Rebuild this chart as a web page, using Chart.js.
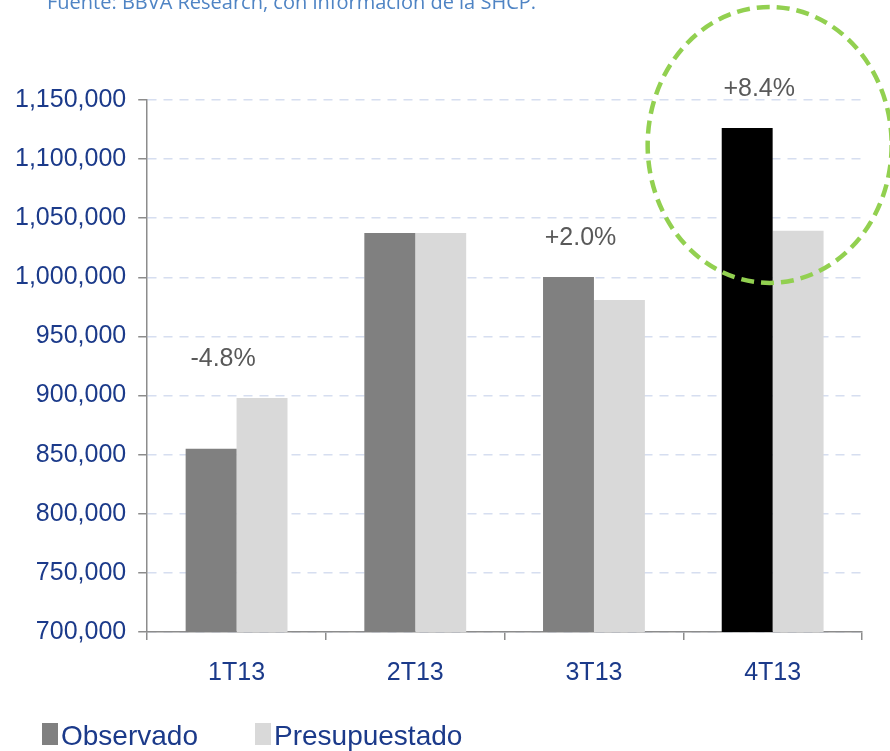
<!DOCTYPE html>
<html>
<head>
<meta charset="utf-8">
<script src="https://cdn.jsdelivr.net/npm/chart.js@4.4.1/dist/chart.umd.min.js"></script>
<style>
  body { margin: 0; background: #fff; }
  #wrap { position: relative; width: 890px; height: 751px; }
</style>
</head>
<body>
<div id="wrap"><canvas id="grafico"></canvas></div>
<script>
// datos
var trimestres = ['1T13', '2T13', '3T13', '4T13'];
var observado = [855000, 1037500, 1000300, 1126400];
var presupuestado = [898000, 1037500, 980900, 1039300];
var variacion = ['-4.8%', '', '+2.0%', '+8.4%'];
var coloresObs = ['#808080', '#808080', '#808080', '#000000'];

var azul = '#1b3a8a';
var fuente = '"Liberation Sans", Arial, sans-serif';

// textos, leyenda y circulo
var extras = {
  id: 'extras',
  afterDatasetsDraw: function (chart) {
    var ctx = chart.ctx;
    var obsMeta = chart.getDatasetMeta(0);
    var presMeta = chart.getDatasetMeta(1);

    ctx.save();
    ctx.font = '25px ' + fuente;
    ctx.fillStyle = '#595959';
    ctx.textAlign = 'center';
    ctx.textBaseline = 'middle';
    for (var i = 0; i < variacion.length; i++) {
      if (!variacion[i]) continue;
      var b = obsMeta.data[i];
      var top = Math.min(b.y, presMeta.data[i].y);
      ctx.fillText(variacion[i], b.x + 12, top - 39);
    }

    // circulo verde sobre 4T13
    var xs = chart.scales.x, ys = chart.scales.y;
    var cx = xs.getPixelForValue(3) - 3;
    var cy = ys.getPixelForValue(1112000);
    ctx.strokeStyle = '#92d050';
    ctx.lineWidth = 4.5;
    ctx.setLineDash([13, 7]);
    ctx.beginPath();
    ctx.ellipse(cx, cy, 122, 138, 0, 0, Math.PI * 2);
    ctx.stroke();
    ctx.setLineDash([]);

    // fuente (cortada arriba)
    ctx.font = '20px "Open Sans", sans-serif';
    ctx.fillStyle = '#4f84c4';
    ctx.textAlign = 'left';
    ctx.textBaseline = 'alphabetic';
    ctx.fillText('Fuente: BBVA Research, con información de la SHCP.', 47, 9);

    // leyenda
    var items = [
      { txt: chart.data.datasets[0].label, color: coloresObs[0], x: 42 },
      { txt: chart.data.datasets[1].label, color: chart.data.datasets[1].backgroundColor, x: 255 }
    ];
    ctx.font = '28px ' + fuente;
    ctx.textBaseline = 'middle';
    items.forEach(function (it) {
      ctx.fillStyle = it.color;
      ctx.fillRect(it.x, 723, 16, 22);
      ctx.fillStyle = azul;
      ctx.fillText(it.txt, it.x + 19, 737);
    });
    ctx.restore();
  }
};

var ctx = document.getElementById('grafico').getContext('2d');
var myChart = new Chart(ctx, {
  type: 'bar',
  data: {
    labels: trimestres,
    datasets: [{
      label: 'Observado',
      data: observado,
      backgroundColor: coloresObs,
      borderWidth: 0
    }, {
      label: 'Presupuestado',
      data: presupuestado,
      backgroundColor: '#d9d9d9',
      borderWidth: 0
    }]
  },
  options: {
    responsive: true,
    maintainAspectRatio: false,
    animation: false,
    categoryPercentage: 0.57,
    barPercentage: 1.0,
    layout: { padding: { top: 100, right: 28, bottom: 45, left: 3 } },
    plugins: {
      legend: { display: false },
      tooltip: { enabled: false }
    },
    scales: {
      x: {
        grid: {
          offset: true,
          drawOnChartArea: false,
          drawTicks: true,
          tickLength: 8,
          color: '#8c8c8c',
          lineWidth: 1.5
        },
        border: { color: '#8c8c8c', width: 1.5 },
        ticks: {
          color: azul,
          font: { family: fuente, size: 25 },
          padding: 18
        }
      },
      y: {
        min: 700000,
        max: 1150000,
        grid: {
          color: '#d6def0',
          lineWidth: 1.5,
          tickLength: 9,
          tickColor: '#8c8c8c',
          tickWidth: 1.5,
          tickBorderDash: []
        },
        border: { color: '#8c8c8c', width: 1.5, dash: [9, 7] },
        ticks: {
          stepSize: 50000,
          color: azul,
          font: { family: fuente, size: 25 },
          padding: 12,
          callback: function (v) { return v.toLocaleString('en-US'); }
        }
      }
    }
  },
  plugins: [extras]
});
</script>
</body>
</html>
